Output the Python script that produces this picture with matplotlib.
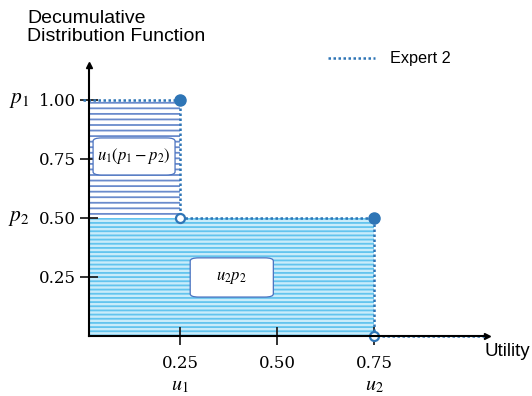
import matplotlib
matplotlib.use("Agg")
import matplotlib.pyplot as plt
from matplotlib.patches import FancyBboxPatch

# data
step_x = [0.0, 0.25, 0.75]          # utility break points (start, u1, u2)
step_p = [1.0, 0.5, 0.0]             # decumulative probability after each break
x_end = 1.04                         # where the x-axis arrow ends
xtick_vals = [0.25, 0.50, 0.75]
ytick_vals = [0.25, 0.50, 0.75, 1.00]
u_labels = [r"$u_1$", r"$u_2$"]
p_labels = [r"$p_1$", r"$p_2$"]
legend_label = "Expert 2"

LINE = "#2e75b6"
UPPER_HATCH = "#6a8bcc"
LOWER_BG = "#c9ecfa"
LOWER_HATCH = "#62c4ee"
BOX_EDGE = "#4a72c0"

plt.rcParams["mathtext.fontset"] = "stix"
plt.rcParams["hatch.linewidth"] = 1.3

fig = plt.figure(figsize=(5.32, 3.96), dpi=100)
ax = fig.add_axes([89 / 532, 60 / 396, 398 / 532, 271 / 396])
ax.set_xlim(0.0155, x_end)
ax.set_ylim(0, 1.148)

# shaded areas
u1, u2 = step_x[1], step_x[2]
p1, p2 = step_p[0], step_p[1]
ax.fill_between([step_x[0], u2], 0, p2, facecolor=LOWER_BG,
                edgecolor=LOWER_HATCH, hatch="----", linewidth=0, zorder=1)
ax.fill_between([step_x[0], u1], p2, p1, facecolor="white",
                edgecolor=UPPER_HATCH, hatch="---", linewidth=0, zorder=1)

# step function
xs = [step_x[0], u1, u1, u2, u2, x_end]
ys = [p1, p1, p2, p2, 0, 0]
ax.plot(xs, ys, color=LINE, lw=1.8, linestyle=(0, (1, 1)), zorder=3,
        label=legend_label, clip_on=False)
ax.plot([u1, u2], [p1, p2], "o", color=LINE, ms=8, zorder=4, clip_on=False)
ax.plot([u1, u2], [p2, 0], "o", mfc="white", mec=LINE, mew=1.6, ms=6.5,
        zorder=4, clip_on=False)

# axes styling
for s in ["top", "right"]:
    ax.spines[s].set_visible(False)
for s in ["left", "bottom"]:
    ax.spines[s].set_linewidth(1.5)
    ax.spines[s].set_zorder(5)
ax.plot(1, 0, ">k", ms=4, transform=ax.transAxes, clip_on=False)
ax.plot(0, 1, "^k", ms=4, transform=ax.transAxes, clip_on=False)

ax.set_xticks(xtick_vals)
ax.set_xticklabels([f"{v:.2f}" for v in xtick_vals])
ax.set_yticks(ytick_vals)
ax.set_yticklabels([f"{v:.2f}" for v in ytick_vals])
ax.tick_params(direction="inout", length=13, width=1.3, color="#222222")
ax.tick_params(axis="x", pad=7)
ax.tick_params(axis="y", pad=3)
for lab in ax.get_xticklabels() + ax.get_yticklabels():
    lab.set_fontfamily("DejaVu Serif")
    lab.set_fontsize(12)

# symbolic labels
for val, lab in zip([u1, u2], u_labels):
    ax.text(val, -0.182, lab, transform=ax.get_xaxis_transform(),
            ha="center", va="center", fontsize=14.5)
for val, lab in zip([p1, p2], p_labels):
    ax.text(-0.176, val, lab, transform=ax.get_yaxis_transform(),
            ha="center", va="center", fontsize=15.5)

# area annotations
asp = 388 / 236
for (x0, y0, w, h), txt in [((0.026, 0.682, 0.211, 0.157), r"$u_1(p_1-p_2)$"),
                            ((0.276, 0.165, 0.214, 0.166), r"$u_2p_2$")]:
    box = FancyBboxPatch((x0, y0), w, h,
                         boxstyle="round,pad=0,rounding_size=0.022",
                         mutation_aspect=1 / asp, facecolor="white",
                         edgecolor=BOX_EDGE, linewidth=0.9, zorder=4)
    ax.add_patch(box)
    ax.text(x0 + w / 2, y0 + h / 2, txt, ha="center", va="center",
            fontsize=12, zorder=5)

# axis titles
fig.text(27 / 532, 1 - 10 / 396, "Decumulative\nDistribution Function",
         ha="left", va="top", fontsize=14, family="Liberation Sans",
         linespacing=1.1)
fig.text(484 / 532, 1 - 352 / 396, "Utility", ha="left", va="center",
         fontsize=13.5, family="Liberation Sans")

ax.legend(loc="center left", bbox_to_anchor=(328 / 532, 1 - 59 / 396),
          bbox_transform=fig.transFigure, frameon=False, borderpad=0,
          borderaxespad=0, handlelength=2.9, handletextpad=0.9,
          prop={"family": "Liberation Sans", "size": 11.7})

fig.savefig("out.png", dpi=100)
